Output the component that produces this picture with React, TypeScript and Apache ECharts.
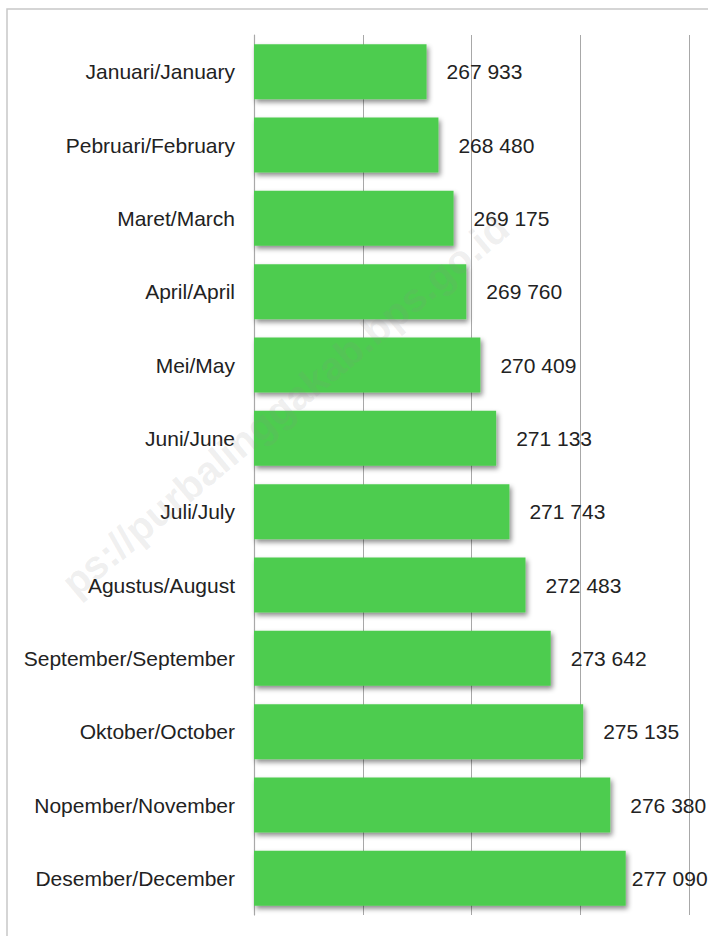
import React, { useEffect, useRef } from "react";
import * as echarts from "echarts";

const categories = [
  "Januari/January",
  "Pebruari/February",
  "Maret/March",
  "April/April",
  "Mei/May",
  "Juni/June",
  "Juli/July",
  "Agustus/August",
  "September/September",
  "Oktober/October",
  "Nopember/November",
  "Desember/December",
];

const values = [267933, 268480, 269175, 269760, 270409, 271133, 271743, 272483, 273642, 275135, 276380, 277090];

const axisMin = 260000;
const axisMax = 280000;
const axisInterval = 5000;

const watermark = "ps://purbalinggakab.bps.go.id";

const fmt = (v: number) => String(v).replace(/\B(?=(\d{3})+(?!\d))/g, " ");

export default function App() {
  const ref = useRef<HTMLDivElement>(null);
  useEffect(() => {
    document.body.style.margin = "0";
    const chart = echarts.init(ref.current!, null, { renderer: "svg" });
    const font = "'Liberation Sans', Arial, sans-serif";
    chart.setOption({
      animation: false,
      backgroundColor: "#ffffff",
      grid: { left: 254, right: 19, top: 35, bottom: 21, containLabel: false },
      xAxis: {
        type: "value",
        min: axisMin,
        max: axisMax,
        interval: axisInterval,
        axisLabel: { show: false },
        axisLine: { show: false },
        axisTick: { show: false },
        splitLine: { show: true, lineStyle: { color: "#a8a8a8", width: 1 } },
      },
      yAxis: {
        type: "category",
        inverse: true,
        data: categories,
        axisLine: { show: true, lineStyle: { color: "#a8a8a8", width: 1.2 } },
        axisTick: { show: false },
        axisLabel: { color: "#222222", fontSize: 21, fontFamily: font, margin: 19 },
      },
      series: [
        {
          type: "bar",
          barCategoryGap: "25%",
          data: values.map((v, i) => ({
            value: v,
            label: { distance: i === values.length - 1 ? 6 : 20 },
          })),
          itemStyle: {
            color: "#4ecc4f",
            shadowColor: "rgba(0,0,0,0.45)",
            shadowBlur: 5,
            shadowOffsetX: 2,
            shadowOffsetY: 3,
          },
          label: {
            show: true,
            position: "right",
            color: "#222222",
            fontSize: 21,
            fontFamily: font,
            formatter: (p: any) => fmt(p.value),
          },
          z: 2,
        },
      ],
      graphic: [
        {
          type: "rect",
          shape: { x: 7, y: 9, width: 760, height: 960 },
          style: { fill: "none", stroke: "#c8c8c8", lineWidth: 1.5 },
          silent: true,
          z: 100,
        },
        {
          type: "text",
          x: 285,
          y: 405,
          rotation: (40 * Math.PI) / 180,
          style: {
            text: watermark,
            fontSize: 40,
            fontWeight: "bold",
            fontFamily: font,
            fill: "rgba(140,140,140,0.14)",
            align: "center",
            verticalAlign: "middle",
          },
          silent: true,
          z: 101,
        },
      ],
    });
    return () => chart.dispose();
  }, []);
  return <div ref={ref} style={{ width: 708, height: 936 }} />;
}
